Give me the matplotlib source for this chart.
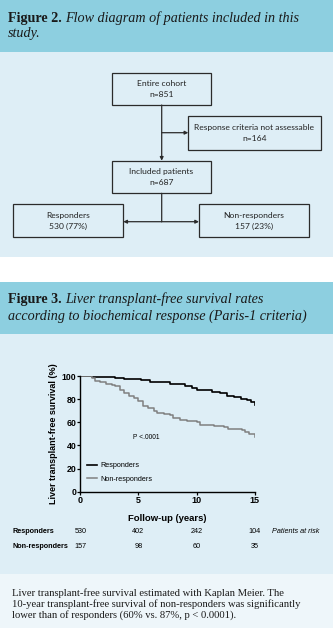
import matplotlib
matplotlib.use("Agg")
import matplotlib.pyplot as plt
from matplotlib.patches import Rectangle

# Kaplan-Meier curves (years, % transplant-free survival)
years_resp = [0, 1.0, 1.7, 2.3, 3.0, 3.8, 4.5, 5.2, 6.0, 6.8, 7.7, 8.4, 9.0, 9.6,
              10.0, 10.5, 11.3, 12.0, 12.6, 13.2, 13.8, 14.3, 14.7, 15.0]
surv_resp = [100, 99.5, 99.2, 98.8, 98.0, 97.5, 97.0, 96.2, 95.2, 94.5, 93.5, 92.8,
             91.5, 89.5, 88.0, 87.5, 86.5, 85.0, 83.0, 81.5, 80.5, 79.0, 77.5, 75.0]

years_nonresp = [0, 0.8, 1.0, 1.3, 1.7, 2.2, 2.7, 3.0, 3.4, 3.8, 4.2, 4.6, 5.0, 5.4,
                 5.8, 6.3, 6.6, 7.2, 7.7, 8.0, 8.6, 9.2, 10.0, 10.3, 11.5, 12.4, 12.7,
                 13.9, 14.2, 14.5, 15.0]
surv_nonresp = [100, 100, 98, 96, 94.5, 93.5, 92.5, 91, 88, 85, 83, 81, 78, 74,
                72.5, 70, 68, 67.5, 66, 63.5, 62, 61, 60, 57.5, 57, 56, 54.5,
                53.5, 52, 50, 47.5]

x_ticks = [0, 5, 10, 15]
y_ticks = [0, 20, 40, 60, 80, 100]

risk_times = [0, 5, 10, 15]
risk_resp = [530, 402, 242, 104]
risk_nonresp = [157, 98, 60, 35]

# flow diagram contents
flow_titles = ["Entire cohort", "Response criteria not assessable", "Included patients",
               "Responders", "Non-responders"]
flow_counts = ["n=851", "n=164", "n=687", "530 (77%)", "157 (23%)"]

HEADER = "#8dcfe0"
PANEL = "#deeef6"
CAPTION = "#eef6fa"
EDGE = "#2b2b2b"

W, H = 333, 628
fig = plt.figure(figsize=(W / 100, H / 100), dpi=100)
fig.patch.set_facecolor("white")

# background axes in pixel coordinates
bg = fig.add_axes([0, 0, 1, 1])
bg.set_xlim(0, W)
bg.set_ylim(H, 0)
bg.axis("off")

bg.add_patch(Rectangle((0, 0), W, 52, color=HEADER, lw=0))
bg.add_patch(Rectangle((0, 52), W, 205, color=PANEL, lw=0))
bg.add_patch(Rectangle((0, 282), W, 52, color=HEADER, lw=0))
bg.add_patch(Rectangle((0, 334), W, 240, color=PANEL, lw=0))
bg.add_patch(Rectangle((0, 574), W, 54, color=CAPTION, lw=0))

HSIZE = 10.2


def header(y, bold, italic):
    t = bg.text(8.3, y, bold, fontsize=HSIZE, fontweight="bold", family="Liberation Serif",
                va="bottom", color="#1a1a1a")
    bg.annotate(italic, xy=(1, 0), xycoords=t, va="bottom", ha="left", fontsize=HSIZE,
                style="italic", family="Liberation Serif", color="#1a1a1a")


header(25, "Figure 2. ", "Flow diagram of patients included in this")
bg.text(8.3, 40, "study.", fontsize=HSIZE, style="italic", family="Liberation Serif",
        va="bottom", color="#1a1a1a")
header(306.5, "Figure 3. ", "Liver transplant-free survival rates")
bg.text(8.3, 323, "according to biochemical response (Paris-1 criteria)", fontsize=HSIZE,
        style="italic", family="Liberation Serif", va="bottom", color="#1a1a1a")

# flow diagram boxes (x0, y0, x1, y1) in pixels
boxes = [(111.7, 72.7, 210.7, 105), (188.3, 116, 320.7, 150), (111.7, 160.7, 210.7, 193.3),
         (12.7, 204, 123.3, 237.3), (199, 204, 309.3, 237.3)]
for (x0, y0, x1, y1), title, count in zip(boxes, flow_titles, flow_counts):
    bg.add_patch(Rectangle((x0, y0), x1 - x0, y1 - y0, facecolor=PANEL, edgecolor=EDGE, lw=0.9))
    cx, cy = (x0 + x1) / 2, (y0 + y1) / 2
    bg.text(cx, cy - 5.5, title, ha="center", va="center", fontsize=6.1, family="Lato",
            color="#222222")
    bg.text(cx, cy + 5.8, count, ha="center", va="center", fontsize=6.1, family="Lato",
            color="#222222")

arrow = dict(arrowstyle="-|>", lw=0.9, color=EDGE, mutation_scale=5, shrinkA=0, shrinkB=0)
line = dict(arrowstyle="-", lw=0.9, color=EDGE, shrinkA=0, shrinkB=0)
bg.annotate("", xy=(161.7, 160.7), xytext=(161.7, 105), arrowprops=arrow)
bg.annotate("", xy=(188.3, 132.7), xytext=(161.7, 132.7), arrowprops=arrow)
bg.annotate("", xy=(161.7, 221.7), xytext=(161.7, 193.3), arrowprops=line)
bg.annotate("", xy=(123.3, 221.7), xytext=(161.7, 221.7), arrowprops=arrow)
bg.annotate("", xy=(199, 221.7), xytext=(161.7, 221.7), arrowprops=arrow)

# Kaplan-Meier plot
ax = fig.add_axes([80.3 / W, (H - 491.7) / H, 174.4 / W, 115.7 / H])
ax.set_facecolor("none")
ax.step(years_resp, surv_resp, where="post", color="black", lw=1.2, label="Responders")
ax.step(years_nonresp, surv_nonresp, where="post", color="#808080", lw=1.1,
        label="Non-responders")
ax.set_xlim(0, 15)
ax.set_ylim(0, 100)
ax.set_xticks(x_ticks)
ax.set_yticks(y_ticks)
for s in ["top", "right"]:
    ax.spines[s].set_visible(False)
for s in ["left", "bottom"]:
    ax.spines[s].set_linewidth(1.0)
ax.tick_params(axis="both", direction="out", length=2.2, width=0.9, pad=0.8)
for lab in ax.get_xticklabels():
    lab.set_fontsize(6.5)
    lab.set_fontweight("bold")
    lab.set_family("Liberation Sans")
for lab in ax.get_yticklabels():
    lab.set_fontsize(6.3)
    lab.set_fontweight("bold")
    lab.set_family("Liberation Sans")
ax.set_ylabel("Liver transplant-free survival (%)", fontsize=6.5, fontweight="bold",
              family="Liberation Sans", labelpad=2.5)
ax.set_xlabel("Follow-up (years)", fontsize=6.8, fontweight="bold",
              family="Liberation Sans", labelpad=6.5)
ax.text(4.5, 47, "P <.0001", fontsize=4.8, family="Liberation Sans", ha="left", va="center")
ax.legend(loc="lower left", bbox_to_anchor=(0.04, 0.075), frameon=False,
          prop={"family": "Liberation Sans", "size": 5.2}, handlelength=1.3,
          handletextpad=0.5, labelspacing=0.95, borderpad=0, borderaxespad=0)

# numbers at risk
tr = ax.get_xaxis_transform()
for t, r, n in zip(risk_times, risk_resp, risk_nonresp):
    ax.text(t, -0.346, str(r), transform=tr, ha="center", va="center", fontsize=5.2,
            family="Liberation Sans", clip_on=False)
    ax.text(t, -0.476, str(n), transform=tr, ha="center", va="center", fontsize=5.2,
            family="Liberation Sans", clip_on=False)
bg.text(12.7, 531.7, "Responders", fontsize=5.2, fontweight="bold", family="Liberation Sans",
        va="center")
bg.text(12.7, 546.7, "Non-responders", fontsize=5.2, fontweight="bold",
        family="Liberation Sans", va="center")
bg.text(271.7, 531.7, "Patients at risk", fontsize=5.2, style="italic",
        family="Liberation Sans", va="center")

# caption
caption = ["Liver transplant-free survival estimated with Kaplan Meier. The",
           "10-year transplant-free survival of non-responders was significantly",
           "lower than of responders (60% vs. 87%, p < 0.0001)."]
for i, txt in enumerate(caption):
    bg.text(12.3, 596 + i * 10.7, txt, fontsize=7.7, family="Liberation Serif",
            va="baseline", color="#1a1a1a")

fig.savefig("out.png", dpi=100)
